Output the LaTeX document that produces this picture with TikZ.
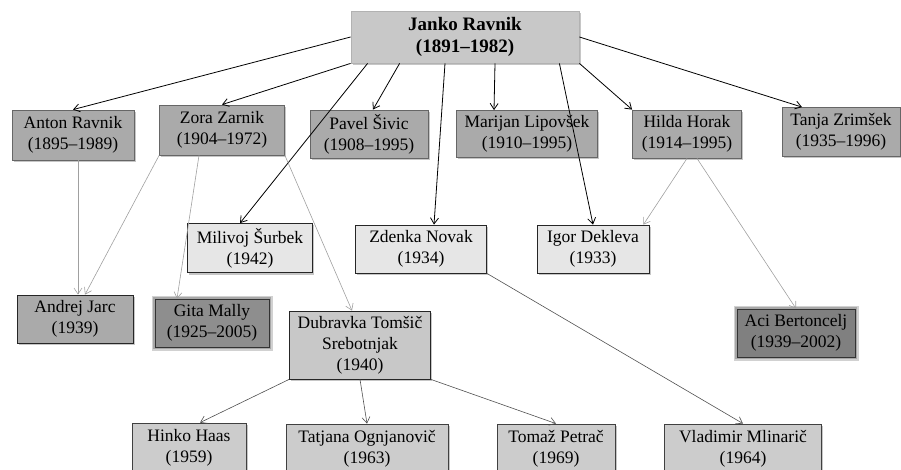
\documentclass[tikz,border=0pt]{standalone}
\usepackage{fontspec}
\setmainfont{Liberation Serif}
\usetikzlibrary{arrows.meta,shadows}
\definecolor{rootgray}{RGB}{200,200,200}
\definecolor{childgray}{RGB}{170,170,170}
\definecolor{palegray}{RGB}{230,230,230}
\definecolor{midgray}{RGB}{204,204,204}
\definecolor{deepgray}{RGB}{142,142,142}
\definecolor{darkgray2}{RGB}{128,128,128}
\definecolor{edgegray}{RGB}{160,160,160}
\definecolor{linkgray}{RGB}{80,80,80}

\begin{document}
\begin{tikzpicture}[x=1pt,y=-1pt,
    person/.style={draw=black!60, line width=0.8pt, align=center, inner sep=2pt,
        font=\fontsize{17.5}{21}\selectfont,
        drop shadow={shadow xshift=1.5pt, shadow yshift=-2pt, opacity=0.45}},
    glowbox/.style={draw=black!80, line width=0.8pt, align=center, inner sep=2pt,
        font=\fontsize{17.5}{21}\selectfont,
        preaction={draw=black, line width=7pt, opacity=0.18},
        preaction={draw=black, line width=4pt, opacity=0.2}},
    blackline/.style={line width=0.8pt, -{Straight Barb[length=6pt,width=8pt]}},
    grayline/.style={edgegray, line width=0.6pt, -{Straight Barb[length=6pt,width=8pt]}},
    darkline/.style={linkgray, line width=0.6pt, -{Straight Barb[length=6pt,width=8pt]}}]
  \useasboundingbox (0,0) rectangle (901,470);

  % root
  \node[person, fill=rootgray, draw=black!30, minimum width=228pt, minimum height=52pt,
        font=\fontsize{19}{22}\selectfont\bfseries] (janko) at (465,37) {Janko Ravnik\\(1891--1982)};

  % children of Janko
  \node[person, fill=childgray, minimum width=122pt, minimum height=50pt] (anton) at (73,135) {Anton Ravnik\\(1895--1989)};
  \node[person, fill=childgray, minimum width=125pt, minimum height=50pt] (zora) at (222,130) {Zora Zarnik\\(1904--1972)};
  \node[person, fill=childgray, minimum width=118pt, minimum height=48pt] (pavel) at (369,134) {Pavel Šivic\\(1908--1995)};
  \node[person, fill=childgray, minimum width=141pt, minimum height=47pt] (marijan) at (527,134) {Marijan Lipovšek\\(1910--1995)};
  \node[person, fill=childgray, minimum width=109pt, minimum height=48pt] (hilda) at (687,134) {Hilda Horak\\(1914--1995)};
  \node[person, fill=childgray, minimum width=118pt, minimum height=49pt] (tanja) at (841,132) {Tanja Zrimšek\\(1935--1996)};

  \node[person, fill=palegray, draw=black!85, minimum width=125pt, minimum height=49pt] (milivoj) at (250,248) {Milivoj Šurbek\\(1942)};
  \node[person, fill=palegray, draw=black!85, minimum width=131pt, minimum height=48pt] (zdenka) at (421,249) {Zdenka Novak\\(1934)};
  \node[person, fill=palegray, draw=black!85, minimum width=112pt, minimum height=48pt] (igor) at (593,249) {Igor Dekleva\\(1933)};

  % grandchildren
  \node[person, fill=childgray, draw=black!85, minimum width=116pt, minimum height=48pt] (andrej) at (75,319) {Andrej Jarc\\(1939)};
  \node[glowbox, fill=deepgray, minimum width=114pt, minimum height=48pt] (gita) at (212,323) {Gita Mally\\(1925--2005)};
  \node[person, fill=rootgray, draw=black!85, minimum width=141pt, minimum height=68pt] (dubravka) at (360,345) {Dubravka Tomšič\\Srebotnjak\\(1940)};
  \node[glowbox, fill=darkgray2, minimum width=118pt, minimum height=48pt] (aci) at (796,333) {Aci Bertoncelj\\(1939--2002)};

  \node[person, fill=midgray, draw=black!75, minimum width=114pt, minimum height=50pt] (hinko) at (189,448) {Hinko Haas\\(1959)};
  \node[person, fill=midgray, draw=black!75, minimum width=162pt, minimum height=50pt] (tatjana) at (367,449) {Tatjana Ognjanovič\\(1963)};
  \node[person, fill=midgray, draw=black!75, minimum width=118pt, minimum height=50pt] (tomaz) at (556,449) {Tomaž Petrač\\(1969)};
  \node[person, fill=midgray, draw=black!75, minimum width=157pt, minimum height=50pt] (vladimir) at (743,449) {Vladimir Mlinarič\\(1964)};

  % links from Janko
  \draw[blackline] (janko.west) -- (anton.north);
  \draw[blackline] (janko.south west) -- (zora.north);
  \draw[blackline] ([xshift=17pt]janko.south west) -- ([xshift=-10pt]milivoj.north);
  \draw[blackline] ([xshift=49pt]janko.south west) -- ([xshift=4pt]pavel.north);
  \draw[blackline] ([xshift=-20pt]janko.south) -- ([xshift=13pt]zdenka.north);
  \draw[blackline] ([xshift=30pt]janko.south) -- ([xshift=-33pt]marijan.north);
  \draw[blackline] ([xshift=-20pt]janko.south east) -- (igor.north);
  \draw[blackline] (janko.south east) -- (hilda.north west);
  \draw[blackline] (janko.east) -- ([xshift=-39pt]tanja.north);

  % further links
  \draw[grayline] ([xshift=5pt]anton.south) -- ([xshift=3pt]andrej.north);
  \draw[grayline] (zora.south west) -- ([xshift=10pt]andrej.north);
  \draw[grayline] ([xshift=-23pt]zora.south) -- ([xshift=-35pt]gita.north);
  \draw[grayline] (zora.south east) -- ([xshift=-8pt]dubravka.north);
  \draw[grayline] (hilda.south) -- ([xshift=-6pt]igor.north east);
  \draw[grayline] ([xshift=10pt]hilda.south) -- (aci.north);
  \draw[darkline] (zdenka.south east) -- (vladimir.north);
  \draw[darkline] (dubravka.south west) -- ([xshift=11pt]hinko.north);
  \draw[darkline] (dubravka.south) -- (tatjana.north);
  \draw[darkline] (dubravka.south east) -- (tomaz.north);
\end{tikzpicture}
\end{document}
